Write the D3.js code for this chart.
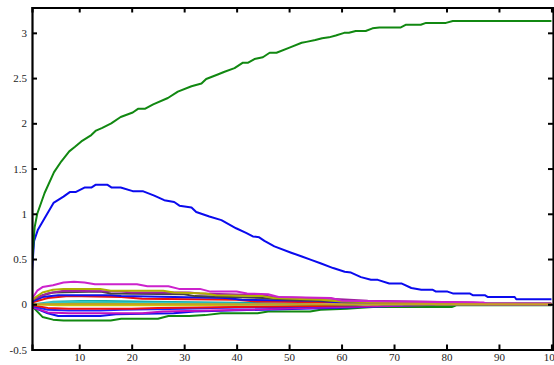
<!DOCTYPE html>
<html>
<head>
<meta charset="utf-8">
<script src="https://cdn.jsdelivr.net/npm/d3@7"></script>
<style>
  html, body { margin: 0; padding: 0; background: #fff; overflow: hidden; }
  svg { display: block; }
</style>
</head>
<body>
<svg id="chart" width="554" height="365"></svg>
<script>
// Axis tick values
const xTicks = [10, 20, 30, 40, 50, 60, 70, 80, 90, 100];
const yTicks = [-0.5, 0, 0.5, 1, 1.5, 2, 2.5, 3];

// Two dominant trajectories, as [iteration, value] pairs
const greenMain = [[1,0.45],[1.5,0.85],[2,1.0],[3.4,1.23],[5.2,1.46],[6.6,1.58],[8.1,1.69],[9.2,1.74],[10.4,1.8],[12.3,1.87],[13.2,1.92],[14.4,1.95],[16.1,2.0],[17.9,2.07],[20.2,2.12],[21.2,2.16],[22.5,2.16],[24.1,2.21],[26.9,2.28],[28.8,2.35],[31.4,2.41],[33.3,2.44],[34.2,2.49],[36.4,2.54],[37.7,2.57],[39.6,2.61],[41.2,2.67],[42.2,2.67],[43.4,2.71],[45,2.73],[46.3,2.78],[47.6,2.78],[50.2,2.84],[52.4,2.89],[53.3,2.9],[55,2.92],[56.3,2.94],[57.6,2.95],[58.9,2.97],[60.5,3.0],[61.4,3.0],[62.7,3.02],[64.6,3.02],[65.9,3.05],[67.2,3.06],[71.3,3.06],[72.3,3.09],[75.1,3.09],[76.1,3.11],[79.9,3.11],[81.2,3.13],[100,3.13]];
const blueMain = [[1,0.36],[1.4,0.7],[2.1,0.82],[3.4,0.95],[5.1,1.12],[7,1.19],[8.2,1.24],[9.3,1.24],[11,1.29],[12.3,1.29],[13.1,1.32],[15.4,1.32],[16.2,1.29],[17.9,1.29],[20.2,1.25],[22.1,1.25],[24.3,1.2],[26.2,1.15],[28.1,1.13],[29.1,1.09],[31.4,1.07],[32.3,1.02],[34.8,0.97],[37.1,0.93],[39.9,0.84],[41.8,0.79],[43.1,0.75],[44.3,0.74],[45.3,0.7],[47.2,0.64],[50.4,0.57],[52.3,0.53],[54.2,0.49],[56.1,0.45],[58.4,0.4],[60.6,0.36],[61.8,0.35],[63.7,0.3],[65.6,0.27],[66.9,0.27],[69.1,0.23],[71.4,0.23],[73.3,0.18],[75.2,0.16],[77.4,0.16],[78,0.14],[80.2,0.14],[81.2,0.12],[84.4,0.12],[85,0.1],[87.3,0.1],[87.9,0.08],[93,0.08],[93.3,0.055],[100,0.055]];

// Small trajectories that settle near zero
const mag1 = [[1,0.06],[2,0.15],[3,0.19],[5,0.21],[7,0.24],[9,0.25],[11,0.24],[13,0.22],[21,0.22],[23,0.2],[27,0.2],[29,0.17],[33,0.17],[35,0.14],[40,0.14],[42,0.12],[46,0.11],[48,0.08],[58,0.07],[60,0.04],[70,0.03],[87,0.02],[88,0],[100,0]];
const olive1 = [[1,0.05],[3,0.13],[5,0.16],[7,0.17],[14,0.17],[16,0.15],[26,0.15],[28,0.13],[34,0.12],[36,0.1],[45,0.09],[47,0.07],[56,0.05],[60,0.03],[70,0.02],[77,0.01],[78,0],[100,0]];
const mag2 = [[1,0.05],[4,0.12],[7,0.15],[18,0.14],[20,0.13],[31,0.13],[33,0.12],[45,0.1],[47,0.08],[58,0.06],[65,0.04],[85,0.02],[87,0.01],[100,0.01]];
const gray1 = [[1,0.04],[3,0.1],[5,0.13],[14,0.14],[16,0.12],[30,0.11],[32,0.09],[45,0.07],[50,0.05],[62,0.03],[70,0.01],[72,0],[100,0]];
const blue1 = [[1,0.03],[3,0.08],[6,0.1],[16,0.1],[18,0.09],[38,0.07],[41,0.05],[55,0.04],[60,0.02],[68,0],[100,0]];
const red1 = [[1,0.02],[4,0.07],[8,0.09],[18,0.08],[22,0.06],[40,0.05],[44,0.03],[60,0.02],[66,0],[100,0]];
const white1 = [[1,0.02],[5,0.05],[12,0.06],[24,0.05],[40,0.04],[55,0.02],[64,0],[100,0]];
const teal1 = [[1,0.01],[4,0.04],[10,0.05],[20,0.04],[38,0.03],[45,0.02],[55,0.01],[62,0],[100,0]];
const cyan1 = [[1,0],[4,0.02],[10,0.03],[30,0.02],[50,0.01],[60,0],[100,0]];
const green1 = [[1,0],[5,0.01],[20,0.01],[40,0],[100,0]];
const yellow1 = [[1,0],[6,-0.01],[30,-0.01],[50,0],[100,0]];
const red2 = [[1,-0.01],[4,-0.04],[8,-0.05],[20,-0.05],[25,-0.04],[40,-0.03],[55,-0.02],[65,-0.01],[72,0],[100,0]];
const blue2 = [[1,-0.02],[4,-0.06],[8,-0.07],[14,-0.07],[18,-0.06],[30,-0.05],[35,-0.04],[50,-0.03],[60,-0.02],[68,0],[100,0]];
const white2 = [[1,-0.02],[5,-0.08],[20,-0.08],[30,-0.06],[45,-0.04],[60,-0.02],[70,0],[100,0]];
const mag3 = [[1,-0.03],[4,-0.09],[8,-0.1],[22,-0.1],[26,-0.08],[35,-0.07],[48,-0.05],[60,-0.03],[75,-0.01],[80,0],[100,0]];
const blue3 = [[1,-0.03],[4,-0.1],[6,-0.13],[14,-0.13],[17,-0.11],[28,-0.1],[32,-0.08],[45,-0.06],[58,-0.04],[70,-0.02],[78,0],[100,0]];
const green2 = [[1,-0.02],[3,-0.14],[5,-0.17],[7,-0.18],[16,-0.18],[18,-0.16],[25,-0.16],[27,-0.13],[31,-0.13],[34,-0.12],[37,-0.1],[44,-0.1],[46,-0.08],[54,-0.08],[56,-0.06],[61,-0.05],[63,-0.04],[66,-0.03],[81,-0.03],[82,-0.01],[100,-0.01]];
const lime1 = [[1,0],[5,0.005],[40,0.005],[88,0.005],[100,0.005]];
const gold1 = [[1,0],[100,0]];

const seriesList = [
  { data: green2, color: "#118811" },
  { data: blue3, color: "#1010ee" },
  { data: white2, color: "#ffffff" },
  { data: mag3, color: "#c010c0" },
  { data: blue2, color: "#2020ff" },
  { data: red2, color: "#ee1010" },
  { data: yellow1, color: "#d0d000" },
  { data: green1, color: "#109010" },
  { data: lime1, color: "#80c020" },
  { data: cyan1, color: "#30c8c8" },
  { data: teal1, color: "#10a8a8" },
  { data: white1, color: "#ffffff" },
  { data: red1, color: "#ee1010" },
  { data: blue1, color: "#1010ee" },
  { data: gray1, color: "#444444" },
  { data: mag2, color: "#a020a0" },
  { data: olive1, color: "#b0b000" },
  { data: mag1, color: "#cc22cc" },
  { data: gold1, color: "#c8a020" },
  { data: blueMain, color: "#0a0aee" },
  { data: greenMain, color: "#118811" }
];

const plotLeft = 32, plotRight = 553, plotTop = 7.5, plotBottom = 349.5;

const svg = d3.select("#chart");
const x = d3.scaleLinear().domain([1, 100.3]).range([plotLeft, plotRight]);
const y = d3.scaleLinear().domain([-0.5, 3.28]).range([plotBottom, plotTop]);

svg.append("defs").append("clipPath").attr("id", "plotClip")
  .append("rect").attr("x", plotLeft).attr("y", plotTop)
  .attr("width", plotRight - plotLeft).attr("height", plotBottom - plotTop);

const line = d3.line().x(d => x(d[0])).y(d => y(d[1]));

const g = svg.append("g").attr("clip-path", "url(#plotClip)");
seriesList.forEach(s => {
  g.append("path")
    .attr("d", line(s.data))
    .attr("fill", "none")
    .attr("stroke", s.color)
    .attr("stroke-width", 2)
    .attr("stroke-linejoin", "round");
});

// Frame with inward ticks on all four sides
const fmt = d => String(d);
const axB = svg.append("g").attr("transform", `translate(0,${plotBottom})`)
  .call(d3.axisBottom(x).tickValues(xTicks).tickSize(-5).tickPadding(4).tickFormat(fmt));
const axT = svg.append("g").attr("transform", `translate(0,${plotTop})`)
  .call(d3.axisTop(x).tickValues(xTicks).tickSize(-5).tickFormat(""));
const axL = svg.append("g").attr("transform", `translate(${plotLeft},0)`)
  .call(d3.axisLeft(y).tickValues(yTicks).tickSize(-5).tickPadding(5).tickFormat(fmt));
const axR = svg.append("g").attr("transform", `translate(${plotRight},0)`)
  .call(d3.axisRight(y).tickValues(yTicks).tickSize(-5).tickFormat(""));

[axB, axT, axL, axR].forEach(a => {
  a.attr("font-family", "Liberation Serif, DejaVu Serif, serif").attr("font-size", 11);
  a.select(".domain").attr("stroke", "#000").attr("stroke-width", 2.2);
  a.selectAll(".tick line").attr("stroke", "#000").attr("stroke-width", 2);
  a.selectAll(".tick text").attr("fill", "#222");
});
</script>
</body>
</html>
